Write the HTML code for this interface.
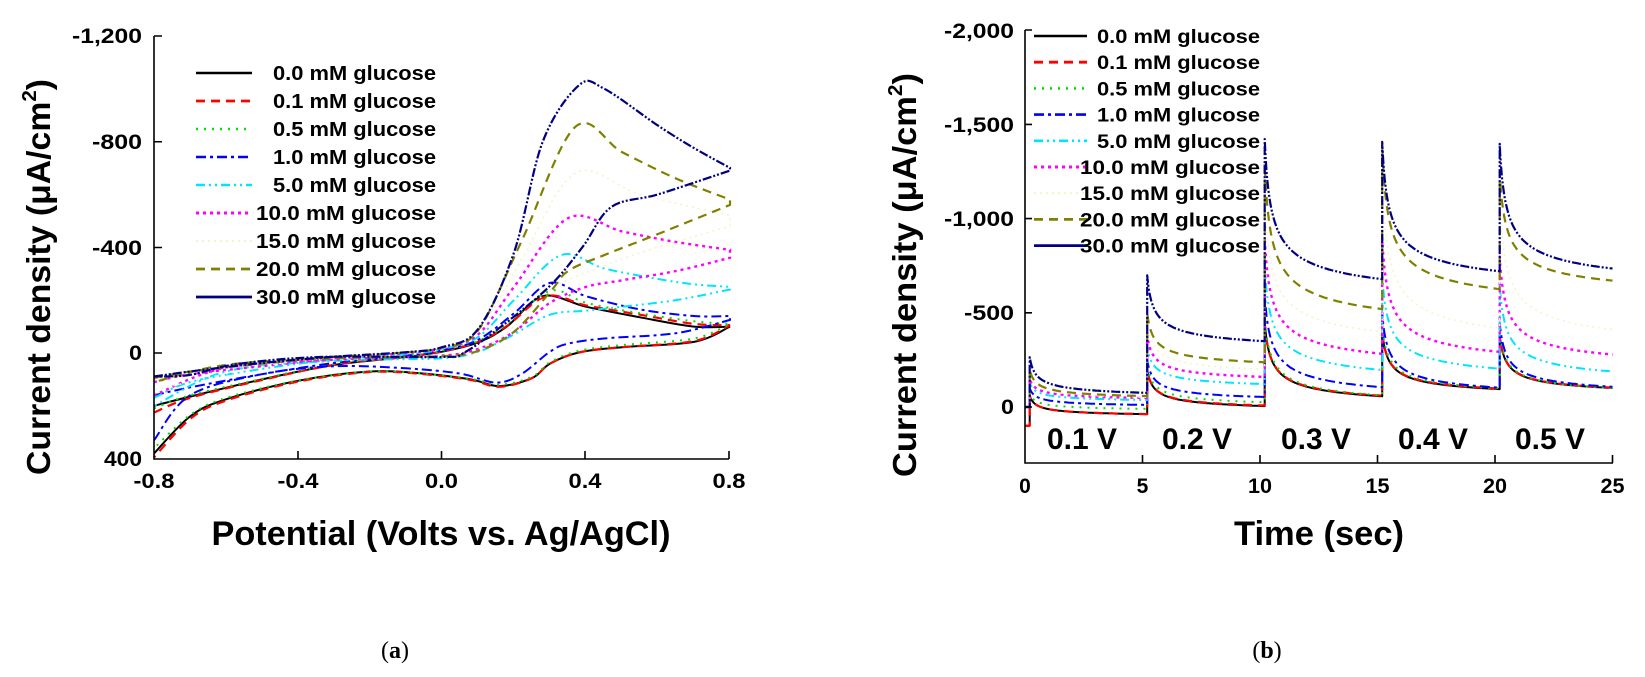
<!DOCTYPE html>
<html><head><meta charset="utf-8">
<style>
html,body{margin:0;padding:0;background:#fff;}
svg{display:block;}
text{font-family:"Liberation Sans",Arial,sans-serif;font-weight:bold;fill:#000;}
</style></head>
<body>
<svg id="s" width="1645" height="677" viewBox="0 0 1645 677" xmlns="http://www.w3.org/2000/svg">
<rect width="1645" height="677" fill="#fff"/>
<g id="curvesA"></g>
<g id="curvesB"></g>
<g stroke="#000" stroke-width="1.6" fill="none">
<path d="M154,36 V459 H729"/>
<path d="M154,36 h8 M154,141.75 h8 M154,247.5 h8 M154,353 h8"/>
<path d="M298,459 v-8 M441.5,459 v-8 M585,459 v-8 M729,459 v-8"/>
</g>
<g font-size="21" text-anchor="end">
<text x="142" y="43" textLength="70" lengthAdjust="spacingAndGlyphs">-1,200</text>
<text x="142" y="149" textLength="50" lengthAdjust="spacingAndGlyphs">-800</text>
<text x="142" y="255" textLength="50" lengthAdjust="spacingAndGlyphs">-400</text>
<text x="142" y="360" textLength="13" lengthAdjust="spacingAndGlyphs">0</text>
<text x="142" y="466" textLength="38" lengthAdjust="spacingAndGlyphs">400</text>
</g>
<g font-size="21" text-anchor="middle">
<text x="154" y="488" textLength="41" lengthAdjust="spacingAndGlyphs">-0.8</text>
<text x="298" y="488" textLength="41" lengthAdjust="spacingAndGlyphs">-0.4</text>
<text x="441.5" y="488" textLength="33" lengthAdjust="spacingAndGlyphs">0.0</text>
<text x="585" y="488" textLength="33" lengthAdjust="spacingAndGlyphs">0.4</text>
<text x="729" y="488" textLength="33" lengthAdjust="spacingAndGlyphs">0.8</text>
</g>
<text x="441" y="545" font-size="34" text-anchor="middle" textLength="459" lengthAdjust="spacingAndGlyphs">Potential (Volts vs. Ag/AgCl)</text>
<text transform="translate(50,277) rotate(-90)" font-size="33" text-anchor="middle" textLength="396" lengthAdjust="spacingAndGlyphs">Current density (μA/cm<tspan font-size="20" dy="-14">2</tspan><tspan dy="14">)</tspan></text>

<g stroke="#000" stroke-width="1.6" fill="none">
<path d="M1025,30 V463 H1613"/>
<path d="M1025,30 h7 M1025,124.4 h7 M1025,218.6 h7 M1025,312.8 h7 M1025,407 h7"/>
<path d="M1142.5,463 v-8 M1260,463 v-8 M1377.5,463 v-8 M1495,463 v-8 M1612.5,463 v-8"/>
</g>
<g font-size="21" text-anchor="end">
<text x="1014" y="38" textLength="70" lengthAdjust="spacingAndGlyphs">-2,000</text>
<text x="1014" y="132" textLength="70" lengthAdjust="spacingAndGlyphs">-1,500</text>
<text x="1014" y="226" textLength="70" lengthAdjust="spacingAndGlyphs">-1,000</text>
<text x="1014" y="320" textLength="50" lengthAdjust="spacingAndGlyphs">-500</text>
<text x="1014" y="414" textLength="13" lengthAdjust="spacingAndGlyphs">0</text>
</g>
<g font-size="21" text-anchor="middle">
<text x="1025" y="493">0</text>
<text x="1142.5" y="493">5</text>
<text x="1260" y="493" textLength="24" lengthAdjust="spacingAndGlyphs">10</text>
<text x="1377.5" y="493" textLength="24" lengthAdjust="spacingAndGlyphs">15</text>
<text x="1495" y="493" textLength="24" lengthAdjust="spacingAndGlyphs">20</text>
<text x="1612.5" y="493" textLength="24" lengthAdjust="spacingAndGlyphs">25</text>
</g>
<g font-size="30" text-anchor="middle">
<text x="1082" y="449" textLength="70" lengthAdjust="spacingAndGlyphs">0.1 V</text>
<text x="1197" y="449" textLength="70" lengthAdjust="spacingAndGlyphs">0.2 V</text>
<text x="1316" y="449" textLength="70" lengthAdjust="spacingAndGlyphs">0.3 V</text>
<text x="1433" y="449" textLength="70" lengthAdjust="spacingAndGlyphs">0.4 V</text>
<text x="1550" y="449" textLength="70" lengthAdjust="spacingAndGlyphs">0.5 V</text>
</g>
<text x="1319" y="545" font-size="34" text-anchor="middle" textLength="170" lengthAdjust="spacingAndGlyphs">Time (sec)</text>
<text transform="translate(916,275) rotate(-90)" font-size="33" text-anchor="middle" textLength="404" lengthAdjust="spacingAndGlyphs">Current density (μA/cm<tspan font-size="20" dy="-14">2</tspan><tspan dy="14">)</tspan></text>

<g id="legA"></g>
<g id="legB"></g>

<text x="395" y="658" font-size="24" text-anchor="middle" style="font-family:'Liberation Serif',serif;font-weight:normal">(<tspan font-weight="bold">a</tspan>)</text>
<text x="1267" y="658" font-size="24" text-anchor="middle" style="font-family:'Liberation Serif',serif;font-weight:normal">(<tspan font-weight="bold">b</tspan>)</text>
</svg>
<script>
var NS="http://www.w3.org/2000/svg";
var S=[
 {n:"0.0",c:"#000000",d:"",w:2},
 {n:"0.1",c:"#ff0000",d:"9,6",w:2.2},
 {n:"0.5",c:"#00dd00",d:"2,6",w:2},
 {n:"1.0",c:"#0000ff",d:"10,4,3,4",w:2},
 {n:"5.0",c:"#00e5ff",d:"9,4,2,4,2,4",w:2},
 {n:"10.0",c:"#ff00ff",d:"3,4",w:2.4},
 {n:"15.0",c:"#f6f3c8",d:"2,4",w:1.6},
 {n:"20.0",c:"#808000",d:"9,6",w:2.2},
 {n:"30.0",c:"#000080",d:"9,2,2,2,2,2",w:2.2}
];
function el(t,a,p){var e=document.createElementNS(NS,t);for(var k in a)e.setAttribute(k,a[k]);p.appendChild(e);return e;}
function cr(pts){
  var d="M"+pts[0][0].toFixed(1)+","+pts[0][1].toFixed(1);
  for(var i=0;i<pts.length-1;i++){
    var p0=pts[i-1]||pts[i],p1=pts[i],p2=pts[i+1],p3=pts[i+2]||p2;
    var c1=[p1[0]+(p2[0]-p0[0])/6,p1[1]+(p2[1]-p0[1])/6];
    var c2=[p2[0]-(p3[0]-p1[0])/6,p2[1]-(p3[1]-p1[1])/6];
    d+="C"+c1[0].toFixed(1)+","+c1[1].toFixed(1)+" "+c2[0].toFixed(1)+","+c2[1].toFixed(1)+" "+p2[0].toFixed(1)+","+p2[1].toFixed(1);
  }
  return d;
}
function XA(v){return 154+(v+0.8)*360;}
function YA(j){return 353-j*0.2644;}
var base0F=[[-0.8,-200],[-0.7,-165],[-0.5,-100],[-0.3,-45],[-0.1,-15],[0,5],[0.1,40],[0.18,100],[0.28,215],[0.4,175],[0.55,135],[0.7,100],[0.8,100]];
var base0R=[[0.8,100],[0.7,42],[0.5,22],[0.38,2],[0.3,-40],[0.25,-95],[0.16,-125],[0.08,-100],[-0.05,-78],[-0.2,-70],[-0.4,-105],[-0.6,-175],[-0.7,-240],[-0.8,-380]];
var CV={
"0.0":[base0F,base0R],
"0.1":[[[-0.8,-225],[-0.7,-170],[-0.5,-102],[-0.3,-45],[-0.1,-14],[0,6],[0.1,42],[0.18,102],[0.29,215],[0.4,180],[0.55,145],[0.7,110],[0.8,105]],
       [[0.8,105],[0.7,45],[0.5,22],[0.38,2],[0.3,-40],[0.25,-95],[0.16,-128],[0.08,-102],[-0.05,-80],[-0.2,-72],[-0.4,-108],[-0.6,-180],[-0.7,-250],[-0.8,-395]]],
"0.5":[[[-0.8,-210],[-0.7,-160],[-0.5,-98],[-0.3,-42],[-0.1,-12],[0,8],[0.1,45],[0.18,110],[0.3,235],[0.4,190],[0.55,150],[0.7,120],[0.8,110]],
       [[0.8,110],[0.7,55],[0.5,30],[0.38,8],[0.3,-35],[0.25,-90],[0.16,-120],[0.08,-98],[-0.05,-78],[-0.2,-70],[-0.4,-104],[-0.6,-170],[-0.7,-235],[-0.8,-360]]],
"1.0":[[[-0.8,-160],[-0.7,-130],[-0.5,-80],[-0.3,-38],[-0.1,-10],[0,10],[0.1,50],[0.2,150],[0.3,265],[0.4,215],[0.55,165],[0.7,140],[0.8,140]],
       [[0.8,125],[0.65,75],[0.45,55],[0.35,35],[0.3,5],[0.22,-80],[0.15,-112],[0.05,-78],[-0.1,-58],[-0.3,-50],[-0.5,-80],[-0.7,-160],[-0.8,-330]]],
"5.0":[[[-0.8,-170],[-0.7,-110],[-0.5,-60],[-0.3,-25],[-0.1,-5],[0,15],[0.1,60],[0.2,200],[0.33,370],[0.45,320],[0.6,280],[0.7,260],[0.8,250]],
       [[0.8,240],[0.65,200],[0.5,175],[0.4,160],[0.3,145],[0.2,70],[0.15,35],[0.1,5],[0,-20],[-0.3,-30],[-0.6,-70],[-0.8,-200]]],
"10.0":[[[-0.8,-110],[-0.7,-80],[-0.5,-50],[-0.3,-20],[-0.1,0],[0,18],[0.1,70],[0.2,250],[0.35,510],[0.5,460],[0.65,420],[0.8,390]],
       [[0.8,360],[0.65,310],[0.5,275],[0.4,250],[0.3,190],[0.2,80],[0.1,15],[0,-10],[-0.3,-25],[-0.6,-55],[-0.8,-160]]],
"15.0":[[[-0.8,-100],[-0.6,-55],[-0.3,-18],[0,20],[0.1,80],[0.22,350],[0.37,680],[0.55,600],[0.8,520]],
       [[0.8,480],[0.6,400],[0.45,330],[0.3,240],[0.2,100],[0.1,10],[0,-12],[-0.4,-30],[-0.8,-140]]],
"20.0":[[[-0.8,-95],[-0.7,-70],[-0.5,-40],[-0.3,-15],[-0.1,2],[0,20],[0.1,85],[0.22,420],[0.37,855],[0.5,760],[0.65,660],[0.8,580]],
       [[0.8,560],[0.6,450],[0.45,370],[0.35,310],[0.3,230],[0.2,80],[0.1,8],[0,-12],[-0.3,-20],[-0.6,-45],[-0.8,-110]]],
"30.0":[[[-0.8,-89],[-0.7,-70],[-0.5,-38],[-0.3,-14],[-0.1,3],[0,22],[0.1,90],[0.2,380],[0.28,800],[0.38,1012],[0.45,1000],[0.6,860],[0.7,775],[0.8,700]],
       [[0.8,690],[0.6,600],[0.47,552],[0.39,400],[0.3,254],[0.17,106],[0.06,0],[0,-15],[-0.34,-15],[-0.57,-42],[-0.7,-83],[-0.8,-89]]]
};
var gA=document.getElementById("curvesA");
S.forEach(function(s){
  var c=CV[s.n];
  var pts=c[0].map(function(p){return [XA(p[0]),YA(p[1])];});
  var pts2=c[1].map(function(p){return [XA(p[0]),YA(p[1])];});
  var d=cr(pts)+" "+cr(pts2).replace(/^M/,"L");
  var a={d:d,fill:"none",stroke:s.c,"stroke-width":s.w};
  if(s.d)a["stroke-dasharray"]=s.d;
  el("path",a,gA);
});
function XB(t){return 1025+t*23.5;}
function YB(c){return 407-c*0.188;}
var CA={
"0.0":[[60,-38],[200,5],[450,57],[400,95],[380,100]],
"0.1":[[60,-38],[200,8],[450,60],[400,98],[380,102]],
"0.5":[[70,-10],[220,25],[480,62],[430,100],[400,100]],
"1.0":[[100,11],[250,53],[600,105],[500,103],[450,106]],
"5.0":[[130,37],[320,122],[750,197],[700,204],[650,187]],
"10.0":[[150,48],[380,160],[900,283],[900,293],[800,277]],
"15.0":[[180,52],[450,200],[1100,400],[1200,420],[1100,410]],
"20.0":[[200,58],[500,238],[1300,521],[1380,627],[1250,670]],
"30.0":[[265,75],[700,350],[1425,680],[1410,722],[1400,734]]
};
var dl=0.15,A0=1/Math.sqrt(dl),B0=1/Math.sqrt(5+dl);
function g(tau){return (1/Math.sqrt(tau+dl)-B0)/(A0-B0);}
var gB=document.getElementById("curvesB");
S.forEach(function(s){
  var st=CA[s.n];
  var start=(s.n=="0.1"||s.n=="0.0")?-100:0;
  var d="M"+XB(0).toFixed(1)+","+YB(start).toFixed(1)+" L"+XB(0.2).toFixed(1)+","+YB(start).toFixed(1);
  for(var k=0;k<5;k++){
    var t0=k*5+0.2,pk=st[k][0],en=st[k][1];
    d+=" L"+XB(t0).toFixed(1)+","+YB(pk).toFixed(1);
    var tend=(k==4)?4.8:5;
    for(var i=1;i<=80;i++){
      var tau=Math.pow(i/80,2)*tend;
      var c=en+(pk-en)*g(tau);
      d+=" L"+XB(t0+tau).toFixed(1)+","+YB(c).toFixed(1);
    }
  }
  var a={d:d,fill:"none",stroke:s.c,"stroke-width":s.w,"stroke-linejoin":"round"};
  if(s.d)a["stroke-dasharray"]=s.d;
  el("path",a,gB);
});
function legend(id,x1,x2,tx,y0,dy,fs){
  var g=document.getElementById(id);
  S.forEach(function(s,i){
    var y=y0+i*dy;
    var a={x1:x1,x2:x2,y1:y,y2:y,stroke:s.c,"stroke-width":s.w+0.6};
    if(s.d&&s.n!="30.0")a["stroke-dasharray"]=s.d;
    el("line",a,g);
    var t=el("text",{x:tx,y:y+7,"font-size":fs,"text-anchor":"end",
      textLength:(s.n.length==3?163:180),lengthAdjust:"spacingAndGlyphs"},g);
    t.textContent=s.n+" mM glucose";
  });
}
legend("legA",196,252,436,73,28,20);
legend("legB",1034,1087,1260,36,26.2,19);
</script>
</body></html>
